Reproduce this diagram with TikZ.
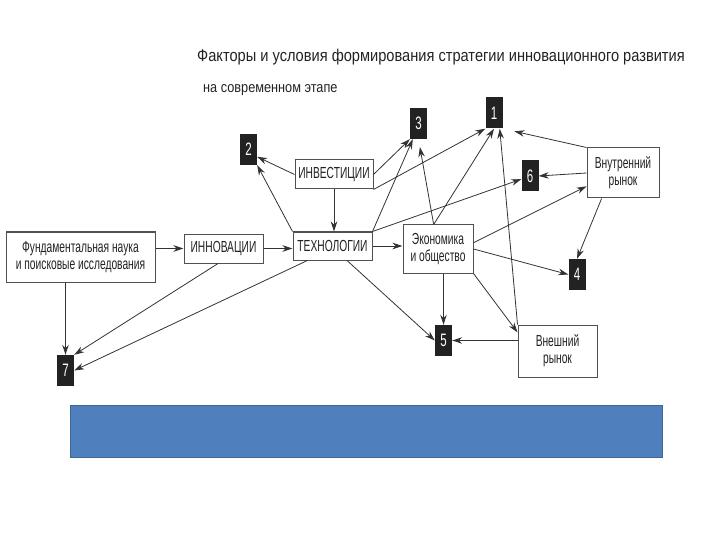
\documentclass[tikz,border=0pt]{standalone}
\usepackage{fontspec}
\setmainfont{Liberation Sans}
\newfontfamily\narrowfont[FakeStretch=0.64]{Liberation Sans}
\newfontfamily\titlefont[FakeStretch=0.86]{Liberation Sans}
\usetikzlibrary{positioning,arrows.meta}
\definecolor{cInk}{HTML}{222222}
\definecolor{cLine}{HTML}{333333}
\definecolor{cFrame}{HTML}{505050}
\definecolor{cBlue}{HTML}{4F7FBD}
\definecolor{cBlueEdge}{HTML}{3F6698}

\begin{document}
\begin{tikzpicture}[x=1pt,y=-1pt,
      box/.style={draw=cFrame,line width=1pt,fill=white,text=cInk,align=center,
        inner sep=1pt,font=\narrowfont\fontsize{16}{17}\selectfont},
      num/.style={fill=cInk,text=white,minimum width=17pt,minimum height=31pt,
        inner sep=0pt,font=\narrowfont\fontsize{18}{18}\selectfont},
      arr/.style={-{Stealth[length=10pt,width=6.5pt]},cLine,line width=0.8pt}]
    \useasboundingbox (0,0) rectangle (720,540);
    % headings
    \node[anchor=west,inner sep=0pt,text=cInk,font=\titlefont\fontsize{17}{17}\selectfont] (title) at (197,57)
      {Факторы и условия формирования стратегии инновационного развития};
    \node[anchor=west,inner sep=0pt,text=cInk,font=\titlefont\fontsize{14.8}{15}\selectfont] (subtitle) at (203,90)
      {на современном этапе};
    % boxes
    \node[box,minimum width=149pt,minimum height=50pt] (fund) at (80.5,257)
      {Фундаментальная наука\\и поисковые исследования};
    \node[box,minimum width=79pt,minimum height=29pt] (innov) at (223.5,248.5) {ИННОВАЦИИ};
    \node[box,minimum width=79pt,minimum height=28pt] (tech) at (332.5,246) {ТЕХНОЛОГИИ};
    \node[box,minimum width=78pt,minimum height=29pt] (invest) at (334,174.5) {ИНВЕСТИЦИИ};
    \node[box,minimum width=70pt,minimum height=48pt] (econ) at (438,249) {Экономика\\и общество};
    \node[box,minimum width=72pt,minimum height=50pt] (inner) at (623,173) {Внутренний\\рынок};
    \node[box,minimum width=79pt,minimum height=52pt] (outer) at (557.5,351) {Внешний\\рынок};
    \foreach \n/\x/\y in {1/494/113,2/248.5/149.5,3/418.5/123.5,4/577/274.5,
        5/443.5/340.5,6/530/176,7/65.5/370.5}
      \node[num] (n\n) at (\x,\y) {\n};
    \node[fill=cBlue,draw=cBlueEdge,line width=1pt,minimum width=592pt,
      minimum height=52pt,inner sep=0pt] (band) at (366,431) {};
    % links
    \draw[arr] (fund.east |- innov.west) -- (innov.west);
    \draw[arr] (innov.east) -- (tech.west |- innov.east);
    \draw[arr] (tech.east) -- (econ.west |- tech.east);
    \draw[arr] (invest.south) -- (invest.south |- tech.north);
    \draw[arr] (invest.west) -- (n2.-40);
    \draw[arr] (tech.north west) -- (n2.south east);
    \draw[arr] (invest.east) -- (n3.south west);
    \draw[arr] (invest.south east) -- (n1.south west);
    \draw[arr] (tech.north east) -- (n3.250);
    \draw[arr] (tech.north east) -- (n6.200);
    \draw[arr,shorten >=8pt] (econ.100) -- (n3.south);
    \draw[arr] (econ.100) -- (n1.south);
    \draw[arr] (outer.north west) -- (n1.290);
    \draw[arr,shorten >=12pt] (inner.north west) -- (n1.south east);
    \draw[arr] (inner.west) -- (n6.east);
    \draw[arr] (econ.10) -- (inner.200);
    \draw[arr] (econ.east) -- (n4.west);
    \draw[arr] (inner.230) -- (n4.north);
    \draw[arr] (econ.south -| n5.north) -- (n5.north);
    \draw[arr] (econ.south east) -- (outer.155);
    \draw[arr] (outer.west |- n5.east) -- (n5.east);
    \draw[arr] (tech.-45) -- (n5.west);
    \draw[arr] (innov.250) -- (n7.north east);
    \draw[arr] (tech.210) -- (n7.east);
    \draw[arr] (fund.south -| n7.north) -- (n7.north);
  \end{tikzpicture}
\end{document}
